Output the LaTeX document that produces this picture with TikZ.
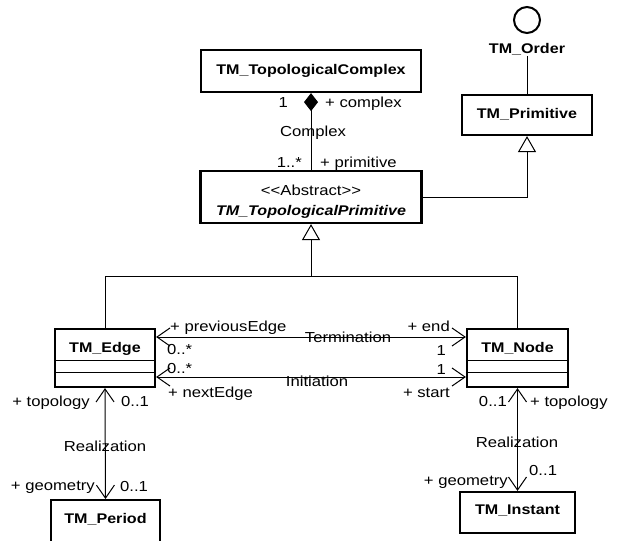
\documentclass[tikz,border=0pt]{standalone}
\usepackage{fontspec}
\setmainfont{Liberation Sans}[FakeStretch=1.15]
\usetikzlibrary{arrows.meta}
\begin{document}
\begin{tikzpicture}[x=1pt,y=-1pt,
  classbox/.style={draw, line width=2.2pt, fill=white, inner sep=0pt},
  cname/.style={font=\fontsize{14}{16}\selectfont\bfseries, inner sep=0pt, anchor=base},
  role/.style={font=\fontsize{14.5}{16}\selectfont, inner sep=0pt},
  link/.style={line width=1pt},
  barb/.tip={Straight Barb[length=13pt,width=18pt]},
  nav/.style={link, barb-barb},
  gen/.style={link, -{Triangle[length=16pt,width=18pt,fill=white]}},
  comp/.style={link, -{Diamond[length=18pt,width=14pt]}},
  compartment/.style={line width=1pt}]
\useasboundingbox (0,0) rectangle (617,540);
\clip (0,0) rectangle (617,540);

% ---- class boxes ----
\node[classbox, minimum width=220, minimum height=42] (complex) at (311,71) {};
\node[cname] (complexname) at (311,75) {TM\_TopologicalComplex};

\node[classbox, minimum width=221, minimum height=52] (abstract) at (311,197) {};
\node[role, anchor=base] (stereo) at (311,195) {<{}<Abstract>{}>};
\node[cname, font=\fontsize{14}{16}\selectfont\bfseries\itshape] (abstractname) at (311,215) {TM\_TopologicalPrimitive};

\node[classbox, minimum width=130, minimum height=40] (primitive) at (527,115) {};
\node[cname] (primitivename) at (527,119) {TM\_Primitive};

\node[draw, circle, line width=2pt, minimum size=26, inner sep=0pt] (order) at (527,20) {};
\node[cname] (ordername) at (527,54) {TM\_Order};

\node[classbox, minimum width=100, minimum height=58] (edge) at (105,358) {};
\node[cname] (edgename) at (105,352) {TM\_Edge};
\draw[compartment] (edge.west |- 0,360) -- (edge.east |- 0,360);
\draw[compartment] (edge.west |- 0,372) -- (edge.east |- 0,372);

\node[classbox, minimum width=101, minimum height=58] (tmnode) at (517.5,358) {};
\node[cname] (tmnodename) at (517.5,352) {TM\_Node};
\draw[compartment] (tmnode.west |- 0,360) -- (tmnode.east |- 0,360);
\draw[compartment] (tmnode.west |- 0,372) -- (tmnode.east |- 0,372);

\node[classbox, minimum width=109, minimum height=60, anchor=north] (period) at (105.5,499) {};
\node[cname] (periodname) at (105.5,523) {TM\_Period};

\node[classbox, minimum width=115, minimum height=41] (instant) at (517.5,512.5) {};
\node[cname] (instantname) at (517.5,514) {TM\_Instant};

% ---- interface realisation ----
\draw[link] (ordername.south) -- (primitive.north);

% ---- generalisations ----
\coordinate (genjoin) at (abstract.south |- 0,276);
\draw[gen] (edge.north) |- (genjoin) -- (abstract.south);
\draw[link] (tmnode.north) |- (genjoin);
\draw[gen] (abstract.east) -| (primitive.south);

% ---- composition: Complex ----
\draw[comp] (abstract.north) -- (complex.south);
\node[role, anchor=base east] (cmul1) at (288,108) {1};
\node[role, anchor=base west] (crole1) at (325,108) {+ complex};
\node[role, anchor=base] (cname1) at (313,137) {Complex};
\node[role, anchor=base east] (cmul2) at (302,167) {1..*};
\node[role, anchor=base west] (crole2) at (320,167) {+ primitive};

% ---- association: Termination ----
\draw[nav] (edge.east |- 0,337) -- (tmnode.west |- 0,337);
\node[role, anchor=base] (termname) at (348,342) {Termination};
\node[role, anchor=base west] (trole1) at (170,331) {+ previousEdge};
\node[role, anchor=base west] (tmul1) at (167,354) {0..*};
\node[role, anchor=base east] (trole2) at (450,331) {+ end};
\node[role, anchor=base east] (tmul2) at (446,355) {1};

% ---- association: Initiation ----
\draw[nav] (edge.east |- 0,377) -- (tmnode.west |- 0,377);
\node[role, anchor=base] (initname) at (317,386) {Initiation};
\node[role, anchor=base west] (imul1) at (167,373) {0..*};
\node[role, anchor=base west] (irole1) at (168,397) {+ nextEdge};
\node[role, anchor=base east] (imul2) at (446,374) {1};
\node[role, anchor=base east] (irole2) at (450,397) {+ start};

% ---- association: Realization (edge / period) ----
\draw[nav] (edge.south) -- (period.north);
\node[role, anchor=base east] (er1) at (90,406) {+ topology};
\node[role, anchor=base west] (em1) at (121,406) {0..1};
\node[role, anchor=base] (ername) at (105,451) {Realization};
\node[role, anchor=base east] (er2) at (95,490) {+ geometry};
\node[role, anchor=base west] (em2) at (120,491) {0..1};

% ---- association: Realization (node / instant) ----
\draw[nav] (tmnode.south) -- (instant.north);
\node[role, anchor=base east] (nm1) at (507,406) {0..1};
\node[role, anchor=base west] (nr1) at (530,406) {+ topology};
\node[role, anchor=base] (nrname) at (517,447) {Realization};
\node[role, anchor=base west] (nm2) at (529,475) {0..1};
\node[role, anchor=base east] (nr2) at (508,485) {+ geometry};
\end{tikzpicture}
\end{document}
